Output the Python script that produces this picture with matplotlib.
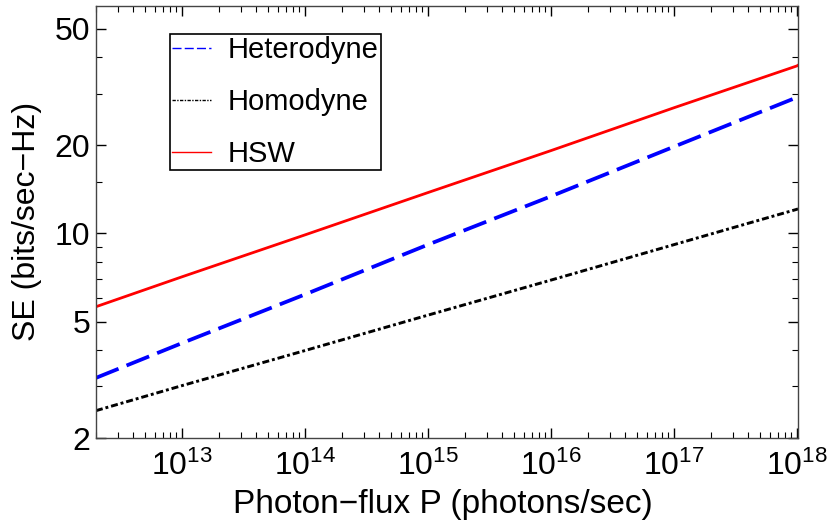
import matplotlib
matplotlib.use("Agg")
import matplotlib.pyplot as plt
from matplotlib.ticker import FixedLocator, NullFormatter

plt.rcParams['font.family'] = ['Liberation Sans', 'DejaVu Sans']
plt.rcParams['mathtext.fontset'] = 'custom'
plt.rcParams['mathtext.rm'] = 'Liberation Sans'
plt.rcParams['mathtext.it'] = 'Liberation Sans:italic'

# photon flux (photons/sec) and spectral efficiency
flux = [2e12, 1e13, 1e14, 1e15, 1e16, 1e17, 1e18, 1.02e18]
se_heterodyne = [3.21, 4.22, 6.19, 9.16, 13.4, 19.8, 29.2, 29.3]
se_homodyne = [2.48, 3.02, 3.98, 5.26, 6.93, 9.16, 12.1, 12.15]
se_hsw = [5.62, 7.11, 9.89, 13.8, 19.2, 26.9, 37.4, 37.6]

y_major = [2, 5, 10, 20, 50]
y_minor = [3, 4, 6, 7, 8, 9, 15, 30, 40]
x_major = [1e13, 1e14, 1e15, 1e16, 1e17, 1e18]

fig = plt.figure(figsize=(8.27, 5.29), dpi=100)
ax = fig.add_axes([0.116, 0.172, 0.849, 0.817])

ax.plot(flux, se_heterodyne, color="blue", lw=2.7, dashes=(6.5, 2.3), label="Heterodyne")
ax.plot(flux, se_homodyne, color="black", lw=2.1, dashes=(2.4, 1.0, 1.0, 1.0), label="Homodyne")
ax.plot(flux, se_hsw, color="red", lw=2.0, label="HSW")

ax.set_xscale("log")
ax.set_yscale("log")
ax.set_xlim(2e12, 1.02e18)
ax.set_ylim(2, 60)

ax.yaxis.set_major_locator(FixedLocator(y_major))
ax.yaxis.set_minor_locator(FixedLocator(y_minor))
ax.set_yticklabels([str(v) for v in y_major])
ax.yaxis.set_minor_formatter(NullFormatter())
ax.xaxis.set_major_locator(FixedLocator(x_major))
ax.set_xticklabels([r"$\mathregular{10^{%d}}$" % e for e in range(13, 19)])

ax.tick_params(which="both", direction="in", top=True, right=True, labelsize=23)
ax.tick_params(which="major", length=7, width=1)
ax.tick_params(which="minor", length=4, width=0.8)
ax.tick_params(axis="x", pad=9)
ax.tick_params(axis="y", pad=4)

for s in ax.spines.values():
    s.set_color("#444444")
    s.set_linewidth(1.0)

ax.set_xlabel("Photon\u2212flux P (photons/sec)", fontsize=24, labelpad=5)
ax.xaxis.label.set_x(0.494)
ax.set_ylabel("SE (bits/sec\u2212Hz)", fontsize=23, labelpad=9)

leg = ax.legend(loc="upper left", bbox_to_anchor=(0.105, 0.935), fontsize=21,
                frameon=True, fancybox=False, edgecolor="black",
                handlelength=1.35, labelspacing=0.82, borderaxespad=0,
                handletextpad=0.55, borderpad=0.08)
leg.get_frame().set_linewidth(1.2)
leg.get_frame().set_alpha(1)
for h in leg.get_lines():
    h.set_linewidth(1.0)

fig.savefig("out.png", dpi=100)
